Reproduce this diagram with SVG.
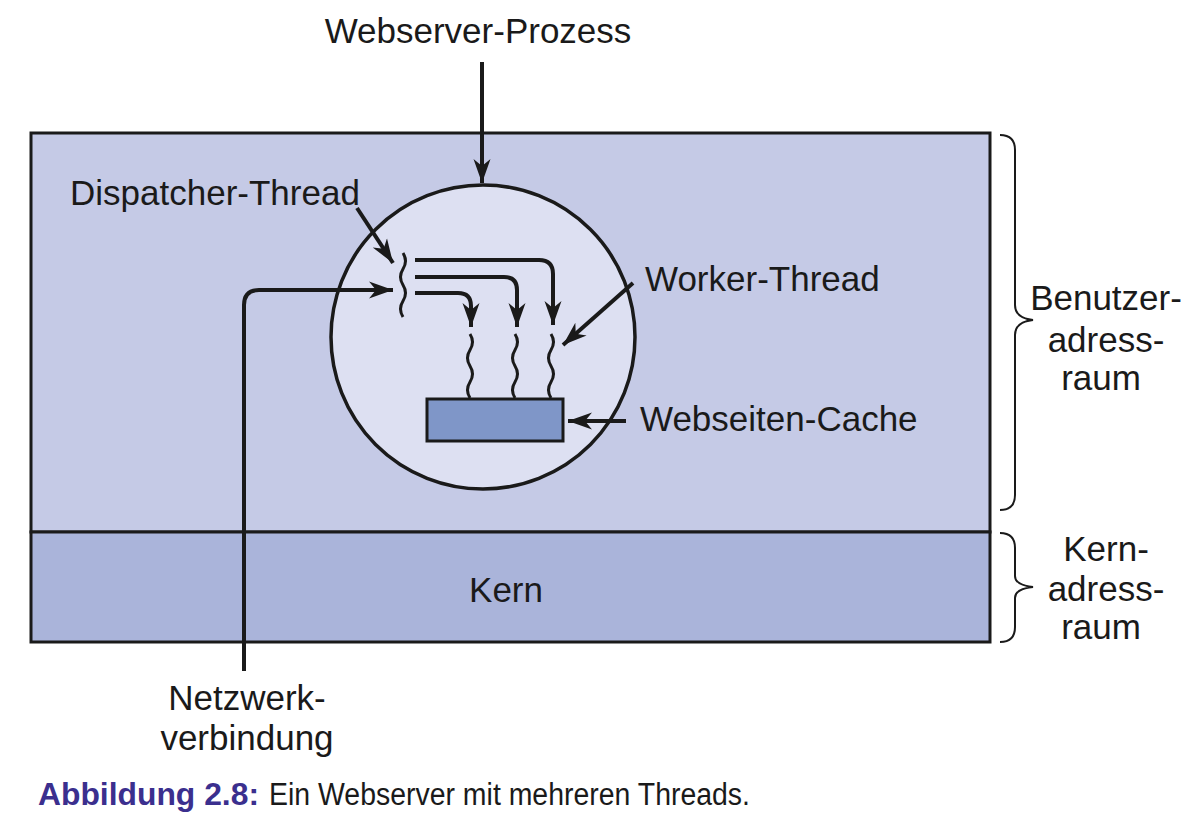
<svg xmlns="http://www.w3.org/2000/svg" width="1204" height="829" viewBox="0 0 1204 829">
<defs>
<style>
.t{font-family:"Liberation Sans",Arial,sans-serif;font-size:35px;fill:#1a1a1a}
.ln{fill:none;stroke:#1a1a1a;stroke-width:4}
.sq{fill:none;stroke:#1a1a1a;stroke-width:3}
.br{fill:none;stroke:#1a1a1a;stroke-width:2}
</style>
<marker id="ah" markerUnits="userSpaceOnUse" markerWidth="26" markerHeight="20" viewBox="0 0 26 20" refX="24" refY="10" orient="auto">
<path d="M0,1.5 L24,10 L0,18.5 L7,10 Z" fill="#1a1a1a"/>
</marker>
</defs>
<rect width="1204" height="829" fill="#ffffff"/>
<g id="benutzeradressraum">
<rect x="31" y="133" width="959" height="399" fill="#c5cae6" stroke="#1a1a1a" stroke-width="3"/>
</g>
<g id="kern">
<rect x="31" y="532" width="959" height="110" fill="#aab4da" stroke="#1a1a1a" stroke-width="3"/>
<text class="t" x="506" y="602" text-anchor="middle">Kern</text>
</g>
<g id="webserver-prozess">
<circle cx="483" cy="337" r="152" fill="#dde0f2" stroke="#1a1a1a" stroke-width="3.5"/>
</g>
<g id="webseiten-cache">
<rect x="427" y="399" width="136" height="42" fill="#7f96c8" stroke="#1a1a1a" stroke-width="3"/>
</g>
<g id="dispatcher-thread">
<path class="sq" d="M403,253 q5,8 0,16 t0,16 t0,16 t0,16"/>
</g>
<g id="worker-threads">
<path class="sq" d="M470,334 q5,8 0,16 t0,16 t0,16 t0,16"/>
<path class="sq" d="M515,334 q5,8 0,16 t0,16 t0,16 t0,16"/>
<path class="sq" d="M551,334 q5,8 0,16 t0,16 t0,16 t0,16"/>
</g>
<g id="connectors">
<path class="ln" d="M415,260 H539 Q553,260 553,274 V325" marker-end="url(#ah)"/>
<path class="ln" d="M415,277 H504 Q517,277 517,290 V327" marker-end="url(#ah)"/>
<path class="ln" d="M415,293 H458 Q471,293 471,306 V327" marker-end="url(#ah)"/>
<path class="ln" d="M244,671 V305 Q244,290 259,290 H393" marker-end="url(#ah)"/>
<path class="ln" d="M482,62 V183" marker-end="url(#ah)"/>
<path class="ln" d="M357,208 L393,263" marker-end="url(#ah)"/>
<path class="ln" d="M633,283 L563,345" marker-end="url(#ah)"/>
<path class="ln" d="M626,421 L568,421" marker-end="url(#ah)"/>
</g>
<g id="labels">
<text class="t" x="478" y="43" text-anchor="middle">Webserver-Prozess</text>
<text class="t" x="70" y="205">Dispatcher-Thread</text>
<text class="t" x="645" y="291">Worker-Thread</text>
<text class="t" x="640" y="431">Webseiten-Cache</text>
<text class="t" x="247" y="710" text-anchor="middle">Netzwerk-</text>
<text class="t" x="247" y="750" text-anchor="middle">verbindung</text>
</g>
<g id="brackets">
<path class="br" d="M1000,135 Q1015,135 1015,150 V305 Q1015,318 1033,320 Q1015,322 1015,335 V495 Q1015,510 1000,510"/>
<path class="br" d="M1000,533 Q1015,533 1015,548 V576 Q1015,585 1033,587 Q1015,589 1015,598 V627 Q1015,642 1000,642"/>
<text class="t" x="1106" y="310" text-anchor="middle">Benutzer-</text>
<text class="t" x="1106" y="352" text-anchor="middle">adress-</text>
<text class="t" x="1101" y="390" text-anchor="middle">raum</text>
<text class="t" x="1106" y="561" text-anchor="middle">Kern-</text>
<text class="t" x="1106" y="601" text-anchor="middle">adress-</text>
<text class="t" x="1101" y="639" text-anchor="middle">raum</text>
</g>
<g id="caption">
<text x="38" y="805" font-family="'Liberation Sans',Arial,sans-serif" font-size="31" font-weight="bold" fill="#3b2f8e" textLength="221" lengthAdjust="spacingAndGlyphs">Abbildung 2.8:</text>
<text x="269" y="805" font-family="'Liberation Sans',Arial,sans-serif" font-size="31" fill="#1a1a1a" textLength="481" lengthAdjust="spacingAndGlyphs">Ein Webserver mit mehreren Threads.</text>
</g>
</svg>
